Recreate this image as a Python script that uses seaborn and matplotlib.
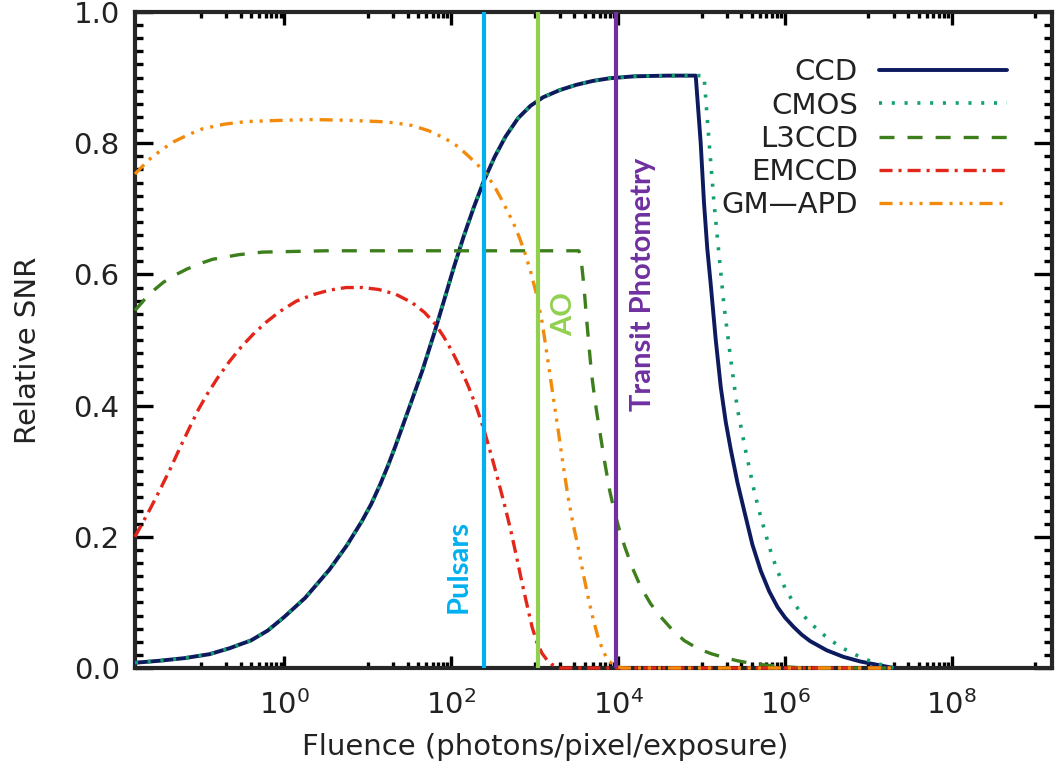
import numpy as np
import pandas as pd
import matplotlib
matplotlib.use("Agg")
import matplotlib.pyplot as plt
import matplotlib.ticker as mticker
import seaborn as sns

# Relative SNR vs fluence (photons/pixel/exposure)
ccd_fluence = [0.0162, 0.0316, 0.0631, 0.126, 0.219, 0.398, 0.631, 1.0, 1.78, 3.47, 5.62,
               8.51, 11.0, 14.1, 17.4, 21.4, 31.6, 44.7, 63.1, 83.2, 107, 141, 186, 245, 331,
               447, 631, 891, 1260, 2000, 3160, 5010, 7940, 15800, 39800, 85100, 97700,
               107000, 117000, 129000, 148000, 170000, 195000, 224000, 269000, 324000,
               407000, 513000, 646000, 813000, 1.0e6, 1.26e6, 1.58e6, 2.0e6, 3.16e6,
               5.01e6, 7.94e6, 1.26e7, 2.0e7]
ccd_snr = [0.008, 0.011, 0.015, 0.021, 0.03, 0.042, 0.057, 0.078, 0.107, 0.15, 0.187,
           0.224, 0.25, 0.28, 0.308, 0.338, 0.398, 0.452, 0.512, 0.563, 0.61, 0.658, 0.702,
           0.742, 0.779, 0.81, 0.838, 0.857, 0.87, 0.881, 0.889, 0.895, 0.899, 0.902,
           0.903, 0.903, 0.80, 0.709, 0.64, 0.584, 0.50, 0.428, 0.375, 0.333, 0.283, 0.24,
           0.188, 0.148, 0.117, 0.093, 0.077, 0.063, 0.051, 0.041, 0.027, 0.017, 0.01,
           0.005, 0.0]

cmos_fluence = [0.0162, 0.0316, 0.0631, 0.126, 0.219, 0.398, 0.631, 1.0, 1.78, 3.47, 5.62,
                8.51, 11.0, 14.1, 17.4, 21.4, 31.6, 44.7, 63.1, 83.2, 107, 141, 186, 245,
                331, 447, 631, 891, 1260, 2000, 3160, 5010, 7940, 15800, 39800, 107000,
                120000, 141000, 162000, 186000, 224000, 269000, 339000, 427000, 501000,
                589000, 692000, 813000, 1.0e6, 1.26e6, 1.58e6, 2.04e6, 2.69e6, 3.55e6,
                4.68e6, 6.03e6, 8.91e6, 1.26e7, 2.0e7]
cmos_snr = [0.008, 0.011, 0.015, 0.021, 0.03, 0.042, 0.057, 0.078, 0.107, 0.15, 0.187,
            0.224, 0.25, 0.28, 0.308, 0.338, 0.398, 0.452, 0.512, 0.563, 0.61, 0.658, 0.702,
            0.742, 0.779, 0.81, 0.838, 0.857, 0.87, 0.881, 0.889, 0.895, 0.899, 0.902,
            0.903, 0.903, 0.82, 0.709, 0.63, 0.552, 0.47, 0.395, 0.33, 0.27, 0.235, 0.203,
            0.173, 0.148, 0.122, 0.1, 0.083, 0.068, 0.054, 0.042, 0.032, 0.024, 0.014,
            0.007, 0.0]

l3ccd_fluence = [0.0162, 0.024, 0.0355, 0.049, 0.0676, 0.1, 0.138, 0.282, 0.55, 3.16, 3390,
                 3590, 3800, 3980, 4170, 4370, 4790, 5250, 5620, 6310, 6920, 7940, 9120,
                 10500, 12000, 14800, 18600, 24500, 32400, 44700, 61700, 89100, 129000,
                 186000, 269000, 398000, 631000, 1.0e6, 1.58e6, 2.0e7]
l3ccd_snr = [0.545, 0.57, 0.588, 0.599, 0.608, 0.617, 0.623, 0.63, 0.634, 0.636, 0.636,
             0.625, 0.595, 0.567, 0.535, 0.506, 0.45, 0.41, 0.385, 0.345, 0.313, 0.27,
             0.236, 0.208, 0.185, 0.153, 0.124, 0.098, 0.078, 0.058, 0.042, 0.03, 0.022,
             0.016, 0.011, 0.007, 0.004, 0.002, 0.0, 0.0]

emccd_fluence = [0.0162, 0.0245, 0.0324, 0.0427, 0.0562, 0.0741, 0.0933, 0.117, 0.158, 0.219,
                 0.302, 0.417, 0.603, 0.871, 1.38, 2.19, 3.47, 5.5, 8.71, 13.5, 21.4, 33.9,
                 47.9, 64.6, 81.3, 102, 129, 162, 204, 251, 309, 372, 447, 525, 617, 708,
                 813, 933, 1070, 1230, 1410, 1580, 2000, 2.0e7]
emccd_snr = [0.2, 0.242, 0.272, 0.303, 0.336, 0.368, 0.394, 0.416, 0.442, 0.467, 0.489,
             0.508, 0.527, 0.543, 0.559, 0.569, 0.576, 0.58, 0.58, 0.577, 0.57, 0.557,
             0.542, 0.524, 0.505, 0.483, 0.457, 0.428, 0.395, 0.36, 0.32, 0.282, 0.243,
             0.206, 0.165, 0.129, 0.095, 0.062, 0.038, 0.022, 0.012, 0.006, 0.0, 0.0]

gmapd_fluence = [0.0162, 0.02, 0.0245, 0.0339, 0.0468, 0.0708, 0.105, 0.191, 0.347, 1.0,
                 2.19, 5.5, 13.5, 21.4, 33.9, 53.7, 85.1, 120, 162, 204, 257, 324, 398, 479,
                 575, 661, 759, 891, 1050, 1230, 1450, 1660, 1910, 2190, 2510, 2880, 3310,
                 3800, 4370, 5010, 5750, 6610, 7590, 9120, 11200, 2.0e7]
gmapd_snr = [0.753, 0.765, 0.776, 0.79, 0.802, 0.813, 0.822, 0.829, 0.833, 0.835, 0.836,
             0.835, 0.833, 0.831, 0.827, 0.819, 0.807, 0.795, 0.78, 0.768, 0.754, 0.736,
             0.715, 0.695, 0.674, 0.655, 0.634, 0.605, 0.57, 0.527, 0.466, 0.415, 0.363,
             0.31, 0.261, 0.22, 0.185, 0.145, 0.108, 0.075, 0.047, 0.026, 0.011, 0.004,
             0.0, 0.0]

# science cases marked with vertical lines
case_names = ["Pulsars", "AO", "Transit Photometry"]
case_fluence = [245, 1100, 9550]
case_colors = ["#00b0f0", "#92d050", "#7030a0"]
case_label_y = [0.154, 0.539, 0.585]

series = [
    ("CCD", ccd_fluence, ccd_snr, "#0d1b5e", "-", 2.8),
    ("CMOS", cmos_fluence, cmos_snr, "#12a06e", (0, (2.2, 7.0)), 2.6),
    ("L3CCD", l3ccd_fluence, l3ccd_snr, "#3d7f1d", (0, (10.8, 9.4)), 2.4),
    ("EMCCD", emccd_fluence, emccd_snr, "#e2261a", (0, (9.4, 4.3, 2.2, 4.3)), 2.4),
    ("GM\u2014APD", gmapd_fluence, gmapd_snr, "#f28a0c",
     (0, (9.4, 5.0, 2.2, 5.0, 2.2, 5.0, 2.2, 5.0)), 2.4),
]

sns.set_style("ticks")
plt.rcParams["font.family"] = ["DejaVu Sans"]
plt.rcParams["lines.scale_dashes"] = False
plt.rcParams["mathtext.default"] = "regular"

fig = plt.figure(figsize=(10.58, 7.73), dpi=100)
ax = fig.add_axes([135 / 1058, 1 - 668 / 773, (1052 - 135) / 1058, (668 - 12) / 773])

for name, fl, snr, color, ls, lw in series:
    df = pd.DataFrame({"fluence": fl, "snr": snr})
    sns.lineplot(data=df, x="fluence", y="snr", ax=ax, color=color, linestyle=ls,
                 linewidth=lw, label=name, estimator=None, sort=False,
                 zorder=3, clip_on=False)

for name, xv, color, ty in zip(case_names, case_fluence, case_colors, case_label_y):
    ax.axvline(xv, color=color, linewidth=3.0, zorder=4)
    off = -18 if name == "Pulsars" else 19
    ax.annotate(name, xy=(xv, ty), xytext=(off, 0), textcoords="offset points",
                rotation=90, ha="center", va="center", color=color,
                fontsize=21, fontweight="bold", family=["Lato", "DejaVu Sans"])

ax.set_xscale("log")
ax.set_xlim(10 ** -1.79, 10 ** 9.2)
ax.set_ylim(0, 1.0)

ax.xaxis.set_major_locator(mticker.FixedLocator([1e-2, 1e0, 1e2, 1e4, 1e6, 1e8]))
minor_x = [k * 10.0 ** d for d in (-1, 1, 3, 5, 7, 9) for k in range(1, 10)]
ax.xaxis.set_minor_locator(mticker.FixedLocator(minor_x))
ax.xaxis.set_minor_formatter(mticker.NullFormatter())
ax.yaxis.set_major_locator(mticker.MultipleLocator(0.2))
ax.yaxis.set_minor_locator(mticker.MultipleLocator(0.02))
ax.yaxis.set_major_formatter(mticker.FormatStrFormatter("%.1f"))

ax.tick_params(axis="both", which="both", direction="in", top=True, right=True,
               colors="black", labelcolor="#222222", labelsize=21)
ax.tick_params(axis="y", which="major", length=13, width=2.4, pad=11)
ax.tick_params(axis="y", which="minor", length=6, width=2.4)
ax.tick_params(axis="x", which="major", length=9, width=2.4, pad=16)
ax.tick_params(axis="x", which="minor", length=4, width=2.4)
for sp in ax.spines.values():
    sp.set_linewidth(3)
    sp.set_visible(True)

ax.set_xlabel("Fluence (photons/pixel/exposure)", fontsize=21, color="#222222")
ax.set_ylabel("Relative SNR", fontsize=21, color="#222222")
ax.xaxis.set_label_coords(0.447, -0.099)
ax.yaxis.set_label_coords(-0.101, 0.485)

leg = ax.legend(loc="upper right", bbox_to_anchor=(0.9635, 0.947), frameon=False,
                markerfirst=False, fontsize=21, handlelength=4.4, handletextpad=0.7,
                labelspacing=0.18, borderaxespad=0)
for t in leg.get_texts():
    t.set_color("#222222")

fig.savefig("out.png", dpi=100)
